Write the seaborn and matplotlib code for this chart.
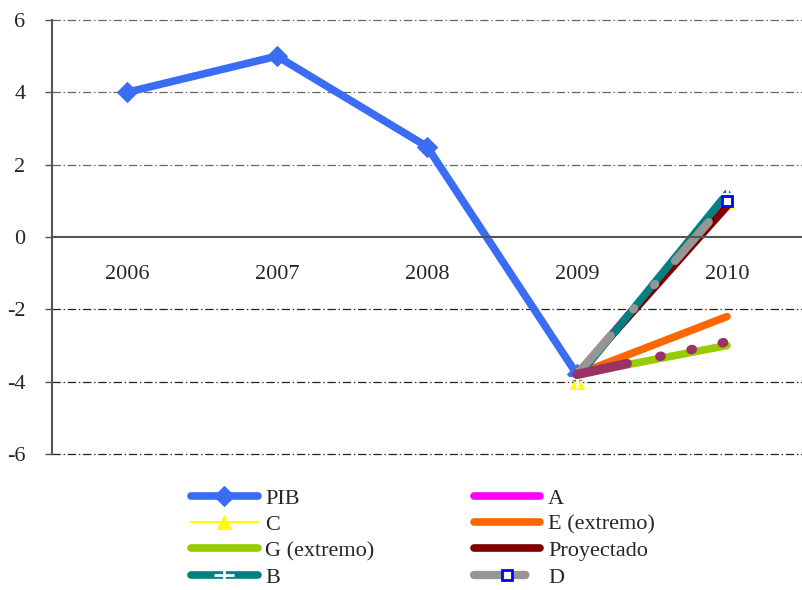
import matplotlib
matplotlib.use("Agg")
import matplotlib.pyplot as plt
import seaborn as sns
import numpy as np

years = ["2006", "2007", "2008", "2009", "2010"]
pib = [4.0, 5.0, 2.5, -3.8, None]
ser_a = [None, None, None, -3.8, 1.0]
ser_c = [None, None, None, -4.0, 1.0]
ser_e = [None, None, None, -3.8, -2.2]
ser_g = [None, None, None, -3.8, -3.0]
ser_proy = [None, None, None, -3.8, 0.85]
ser_b = [None, None, None, -3.9, 1.2]
ser_d = [None, None, None, -3.8, 1.0]
ser_f = [None, None, None, -3.8, -2.9]

sns.set_theme(style="white")
plt.rcParams['font.family'] = ['Liberation Serif', 'DejaVu Serif']
plt.rcParams['lines.scale_dashes'] = False

fig = plt.figure(figsize=(8.03, 5.90), dpi=100)
ax = fig.add_axes([52/803, 136/590, 750/803, 434/590])

xpos = np.arange(len(years))

def draw(vals, label, **kw):
    xs = [x for x, v in zip(xpos, vals) if v is not None]
    ys = [v for v in vals if v is not None]
    sns.lineplot(x=xs, y=ys, ax=ax, label=label, **kw)

thick = 5.5
draw(pib, "PIB", color="#3B6CF4", lw=thick, marker="D", ms=10, mec="#3B6CF4", solid_capstyle="round")
draw(ser_a, "A", color="#FF00FF", lw=thick, solid_capstyle="round")
draw(ser_c, "C", color="#FFFF00", lw=1.5, marker="^", ms=10, mec="#FFFF00")
draw(ser_e, "E (extremo)", color="#FF6600", lw=thick, solid_capstyle="round")
draw(ser_g, "G (extremo)", color="#99CC00", lw=thick, solid_capstyle="round")
draw(ser_proy, "Proyectado", color="#800000", lw=thick, solid_capstyle="round")
draw(ser_b, "B", color="#008080", lw=thick, marker="+", ms=14, mew=2, solid_capstyle="round")
draw(ser_d, "D", color="#969696", lw=6, marker="s", ms=7, mfc="white", mec="#0000FF", mew=2,
     markevery=[1], dash_capstyle="round", linestyle=(0, (37, 25, 1, 22, 1, 22)))
draw(ser_f, "_nolegend_", color="#993366", lw=6.8, dash_capstyle="round",
     linestyle=(0, (37, 24, 1, 22, 1, 22, 1, 60)))

ax.spines["bottom"].set_position(("data", 0))
for s in ["top", "right"]:
    ax.spines[s].set_visible(False)
ax.spines["bottom"].set_color("#555555")
ax.spines["bottom"].set_linewidth(1.5)
ax.spines["left"].set_color("#555555")
ax.spines["left"].set_linewidth(1.5)

ax.set_xlim(-0.5, 4.5)
ax.set_ylim(-6, 6)
ax.set_yticks([-6, -4, -2, 0, 2, 4, 6])
ax.set_yticklabels(["-6", "-4", "-2", "0", "2", "4", "6"], fontsize=16)
for yv in [-6, -4, -2, 2, 4, 6]:
    gcol = "#222222" if yv < 0 else "#666666"
    ax.axhline(yv, color=gcol, lw=0.9, linestyle=(0, (6, 2, 1, 2)), zorder=0, clip_on=False)

ax.set_xticks(xpos)
ax.set_xticklabels(years, fontsize=16)
ax.set_xticks([0.5, 1.5, 2.5, 3.5], minor=True)
ax.tick_params(axis="x", which="major", length=0, pad=20, labelsize=16)
ax.tick_params(axis="x", which="minor", length=6, width=1, color="#555555", direction="out")
ax.tick_params(axis="y", length=5, width=1, color="#555555", direction="out", left=True, pad=14)
ax.set_xlabel("")
ax.set_ylabel("")

handles, labels = ax.get_legend_handles_labels()
hmap = dict(zip(labels, handles))
order = ["PIB", "C", "G (extremo)", "B", "A", "E (extremo)", "Proyectado", "D"]
leg = ax.legend([hmap[k] for k in order], order, ncol=2, frameon=False, fontsize=16,
                loc="upper left", bbox_to_anchor=(191/803, (590-488)/590), bbox_transform=fig.transFigure,
                handlelength=3.0, handletextpad=0.35, labelspacing=0.26, columnspacing=4.45,
                borderpad=0, borderaxespad=0, numpoints=1)

fig.savefig("out.png", dpi=100)
